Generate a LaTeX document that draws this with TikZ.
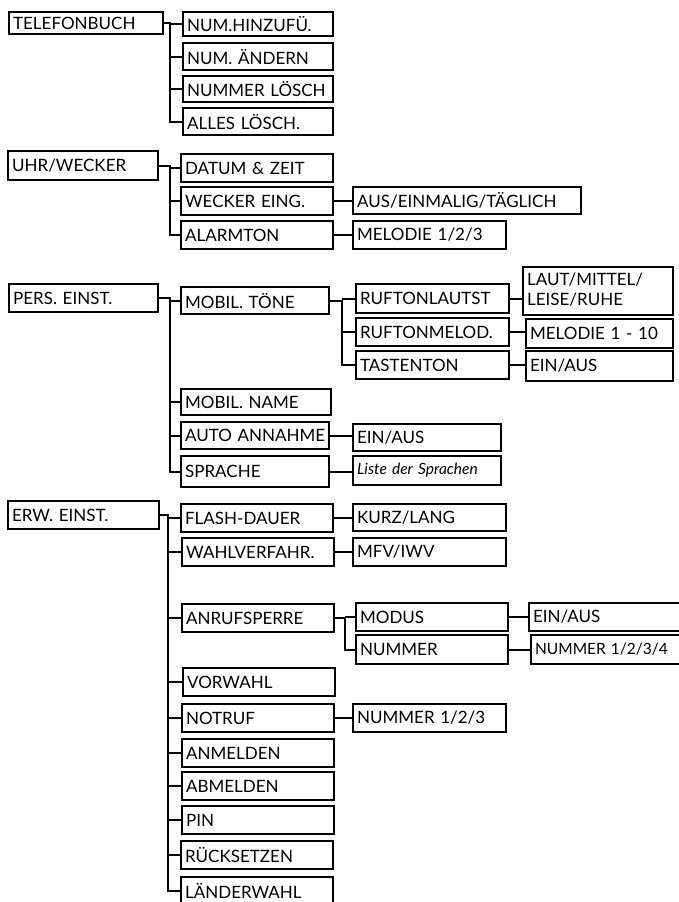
\documentclass[tikz,border=0pt]{standalone}
\usepackage{fontspec}
\setmainfont{Lato}
\tikzset{
  bx/.style={draw, line width=2.2pt, inner xsep=4pt, inner ysep=0pt, align=left, anchor=north west,
             font=\fontsize{17}{20}\selectfont},
  ln/.style={line width=2.2pt}
}
\newcommand\bx[7][]{%
  \pgfmathsetmacro\bxw{#5-#3}\pgfmathsetmacro\bxh{#6-#4}\pgfmathsetmacro\bxt{#5-#3-8}%
  \node[bx, minimum width=\bxw pt, minimum height=\bxh pt, text width=\bxt pt, #1] (#2) at (#3,#4) {\mbox{#7}};}
\newcommand\lnk[2]{\draw[ln] (#1.east) -- (#1.east -| #2.west);}
\begin{document}
\begin{tikzpicture}[x=1pt,y=-1pt]
\useasboundingbox (0,0) rectangle (679,902);
% group 1
\bx{tel}{8}{11}{162}{33}{TELEFONBUCH}
\bx{a1}{182}{11}{332}{35}{NUM.HINZUFÜ.}
\bx{a2}{182}{42}{332}{69}{NUM. ÄNDERN}
\bx{a3}{182}{75}{332}{101}{NUMMER LÖSCH}
\bx{a4}{182}{107}{332}{134}{ALLES LÖSCH.}
\coordinate (t1) at (170,0);
\draw[ln] (tel.east) -- (tel.east -| t1) -- (a4.west -| t1) -- (a4.west);
\foreach \c in {a1,a2,a3} \draw[ln] (\c.west -| t1) -- (\c.west);
% group 2
\bx{uhr}{7}{150}{157}{179}{UHR/WECKER}
\bx{b1}{180}{153}{332}{181}{DATUM \& ZEIT}
\bx{b2}{180}{186}{332}{214}{WECKER EING.}
\bx{b3}{180}{220}{332}{248}{ALARMTON}
\bx{b2a}{352}{186}{580}{213}{AUS/EINMALIG/TÄGLICH}
\bx{b3a}{352}{220}{505}{248}{MELODIE 1/2/3}
\coordinate (t2) at (170,0);
\draw[ln] (uhr.east) -- (uhr.east -| t2) -- (b3.west -| t2) -- (b3.west);
\foreach \c in {b1,b2} \draw[ln] (\c.west -| t2) -- (\c.west);
\lnk{b2}{b2a}
\lnk{b3}{b3a}
% group 3
\bx{pers}{8}{283}{157}{311}{PERS. EINST.}
\bx{c1}{180}{286}{328}{313}{MOBIL. TÖNE}
\bx{c1a}{355}{283}{508}{312}{RUFTONLAUTST}
\bx{c1b}{355}{317}{508}{345}{RUFTONMELOD.}
\bx{c1c}{355}{350}{508}{378}{TASTENTON}
\bx{c1a1}{522}{266}{672}{314}{\begin{tabular}{@{}l@{}}LAUT/MITTEL/\\LEISE/RUHE\end{tabular}}
\bx{c1b1}{525}{318}{672}{347}{MELODIE 1 - 10}
\bx{c1c1}{525}{350}{672}{380}{EIN/AUS}
\bx{c2}{180}{388}{330}{414}{MOBIL. NAME}
\bx{c3}{180}{421}{328}{448}{AUTO ANNAHME}
\bx{c3a}{352}{423}{500}{450}{EIN/AUS}
\bx{c4}{180}{455}{328}{486}{SPRACHE}
\bx[font=\fontsize{15.5}{18}\selectfont\itshape]{c4a}{352}{455}{500}{484}{Liste der Sprachen}
\coordinate (t3) at (170,0);
\draw[ln] (pers.east) -- (pers.east -| t3) -- (c4.west -| t3) -- (c4.west);
\foreach \c in {c1,c2,c3} \draw[ln] (\c.west -| t3) -- (\c.west);
\coordinate (s3) at (342,0);
\draw[ln] (c1.east) -- (c1.east -| s3) -- (c1c.west -| s3) -- (c1c.west);
\foreach \c in {c1a,c1b} \draw[ln] (\c.west -| s3) -- (\c.west);
\lnk{c1a}{c1a1}
\lnk{c1b}{c1b1}
\lnk{c1c}{c1c1}
\lnk{c3}{c3a}
\lnk{c4}{c4a}
% group 4
\bx{erw}{7}{500}{158}{528}{ERW. EINST.}
\bx{d1}{180}{503}{332}{531}{FLASH-DAUER}
\bx{d1a}{352}{503}{505}{530}{KURZ/LANG}
\bx{d2}{181}{537}{333}{565}{WAHLVERFAHR.}
\bx{d2a}{352}{537}{505}{565}{MFV/IWV}
\bx{d3}{181}{603}{333}{631}{ANRUFSPERRE}
\bx{d3a}{355}{602}{507}{630}{MODUS}
\bx{d3b}{355}{634}{507}{663}{NUMMER}
\bx{d3a1}{528}{602}{684}{630}{EIN/AUS}
\bx[inner xsep=2pt, font=\fontsize{15.5}{18}\selectfont]{d3b1}{530}{634}{684}{663}{NUMMER 1/2/3/4}
\bx{d4}{182}{667}{334}{695}{VORWAHL}
\bx{d5}{181}{703}{333}{731}{NOTRUF}
\bx{d5a}{352}{703}{505}{731}{NUMMER 1/2/3}
\bx{d6}{181}{738}{333}{766}{ANMELDEN}
\bx{d7}{181}{771}{333}{799}{ABMELDEN}
\bx{d8}{181}{805}{333}{833}{PIN}
\bx{d9}{180}{840}{332}{868}{RÜCKSETZEN}
\bx{d10}{180}{876}{332}{903}{LÄNDERWAHL}
\coordinate (t4) at (168,0);
\draw[ln] (erw.east) -- (erw.east -| t4) -- (d10.west -| t4) -- (d10.west);
\foreach \c in {d1,d2,d3,d4,d5,d6,d7,d8,d9} \draw[ln] (\c.west -| t4) -- (\c.west);
\coordinate (s4) at (345,0);
\draw[ln] (d3.east) -- (d3.east -| s4) -- (d3b.west -| s4) -- (d3b.west);
\draw[ln] (d3a.west -| s4) -- (d3a.west);
\lnk{d1}{d1a}
\lnk{d2}{d2a}
\lnk{d3a}{d3a1}
\lnk{d3b}{d3b1}
\lnk{d5}{d5a}
\end{tikzpicture}
\end{document}
